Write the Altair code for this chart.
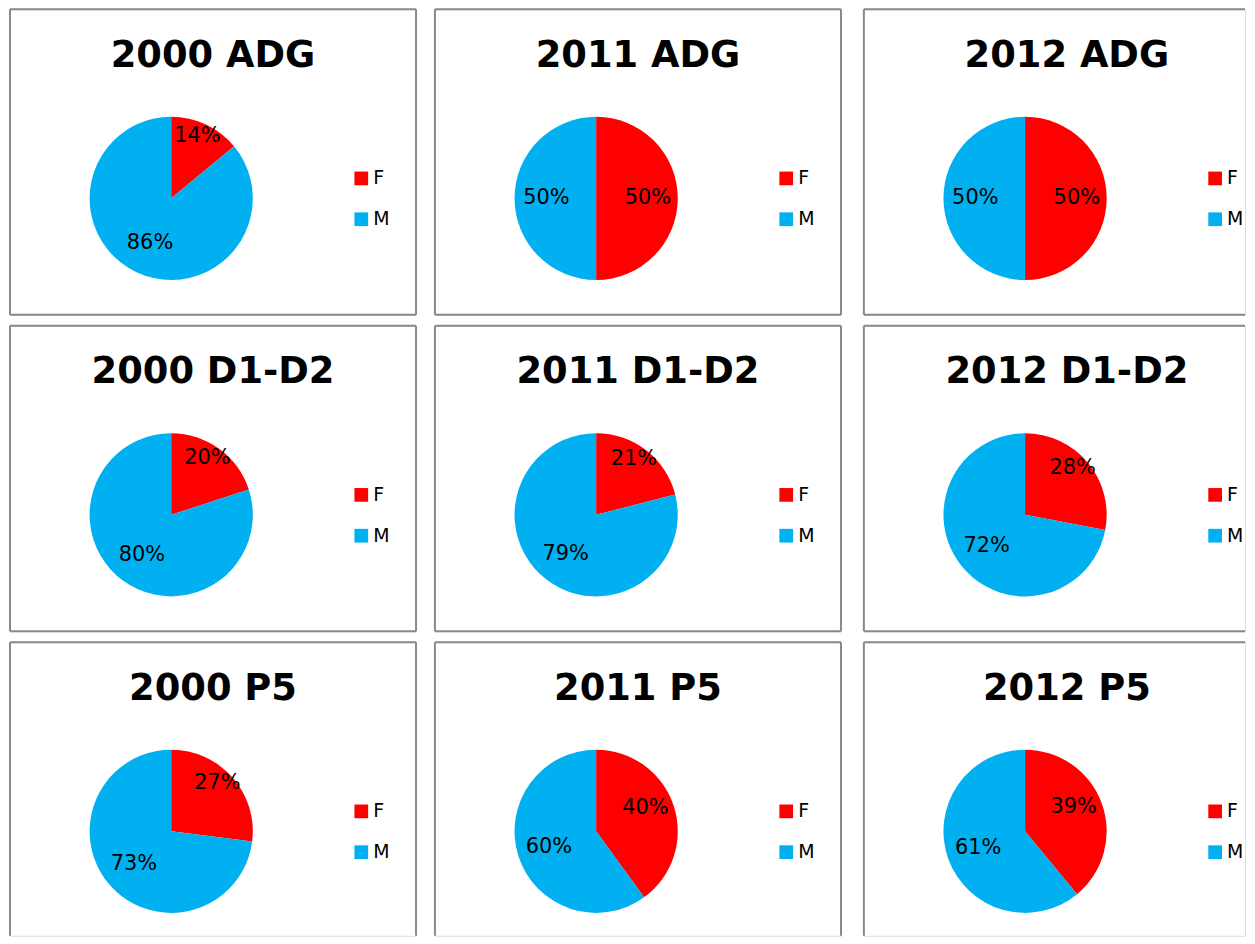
import altair as alt
import pandas as pd

# ---- data ----
titles = ["2000 ADG", "2011 ADG", "2012 ADG",
          "2000 D1-D2", "2011 D1-D2", "2012 D1-D2",
          "2000 P5", "2011 P5", "2012 P5"]
f_values = [14, 50, 50, 20, 21, 28, 27, 40, 39]
m_values = [86, 50, 50, 80, 79, 72, 73, 60, 61]
sexes = ["F", "M"]
colors = ["#FF0000", "#00B0F0"]

COL_W = [408, 408, 383]
ROW_H = [307, 307, 295]
CX, CY = 162, 190
R = 82
FONT = "DejaVu Sans"
BORDER = "#898989"


def panel(title, f, m, W, H, right_border, bottom_border):
    df = pd.DataFrame({
        "sex": sexes,
        "value": [f, m],
        "idx": [0, 1],
        "label": [f"{f}%", f"{m}%"],
    })
    base = alt.Chart(df)
    color = alt.Color("sex:N", scale=alt.Scale(domain=sexes, range=colors), legend=None)
    arc = base.mark_arc(radius=R, stroke=None).encode(
        theta=alt.Theta("value:Q", stack=True),
        color=color,
        order=alt.Order("idx:Q", sort="ascending"),
        x=alt.value(CX), y=alt.value(CY),
    )
    labels = base.mark_text(
        font=FONT, fontSize=21, color="black",
        radius={"expr": "datum.sex == 'F' ? (datum.value < 35 ? 62 : 52) : 50"},
        dy={"expr": "datum.sex == 'F' && datum.value < 45 ? -7 : 0"},
    ).encode(
        theta=alt.Theta("value:Q", stack=True),
        detail="sex:N",
        order=alt.Order("idx:Q", sort="ascending"),
        text="label:N",
        x=alt.value(CX), y=alt.value(CY),
    )
    ly = alt.Y("sex:N", scale=alt.Scale(type="point", domain=sexes, range=[170, 211], padding=0), axis=None)
    leg_sq = base.mark_square(size=190, opacity=1, filled=True).encode(
        x=alt.value(353), y=ly, color=color,
    )
    leg_tx = base.mark_text(font=FONT, fontSize=19, align="left", baseline="middle", color="black").encode(
        x=alt.value(365), y=ly, text="sex:N",
    )
    tdf = alt.Chart(pd.DataFrame({"t": [title]}))
    ttl = tdf.mark_text(
        font=FONT, fontSize=37, fontWeight="bold", baseline="alphabetic", align="center", color="black"
    ).encode(x=alt.value(204), y=alt.value(58), text="t:N")
    rule = dict(color=BORDER, strokeWidth=2)
    frame = [
        tdf.mark_rule(**rule).encode(x=alt.value(0), y=alt.value(0), y2=alt.value(H)),
        tdf.mark_rule(**rule).encode(y=alt.value(0), x=alt.value(0), x2=alt.value(W)),
    ]
    if right_border:
        frame.append(tdf.mark_rule(**rule).encode(x=alt.value(W), y=alt.value(0), y2=alt.value(H)))
    if bottom_border:
        frame.append(tdf.mark_rule(**rule).encode(y=alt.value(H), x=alt.value(0), x2=alt.value(W)))
    return alt.layer(arc, labels, leg_sq, leg_tx, ttl, *frame).properties(width=W, height=H)


rows = []
for r in range(3):
    p = []
    for c in range(3):
        i = r * 3 + c
        p.append(panel(titles[i], f_values[i], m_values[i], COL_W[c], ROW_H[r], c < 2, r < 2))
    rows.append(alt.hconcat(alt.hconcat(p[0], p[1], spacing=15), p[2], spacing=19))

chart = alt.vconcat(*rows, spacing=7).properties(
    padding={"left": 0, "top": -3, "right": 0, "bottom": 0}
).configure_view(stroke=None).configure(background="white")

chart.save("out.html", embed_options={"renderer": "svg", "actions": False})
